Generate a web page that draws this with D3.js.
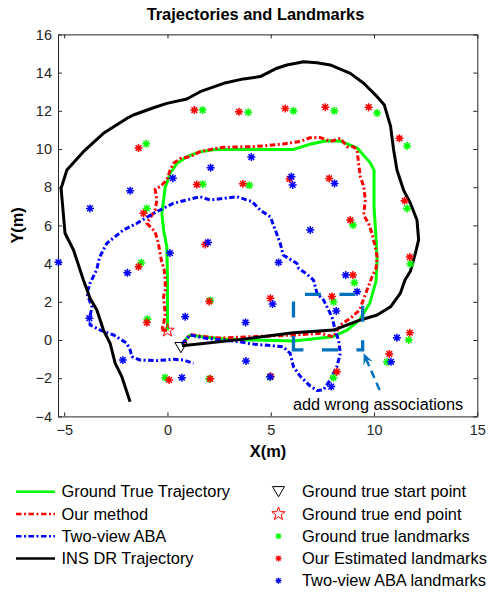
<!DOCTYPE html>
<html>
<head>
<meta charset="utf-8">
<script src="https://cdn.jsdelivr.net/npm/d3@7"></script>
<style>
  body { margin: 0; background: #fff; }
  svg { display: block; font-family: 'Liberation Sans', Arial, sans-serif; }
</style>
</head>
<body>
<svg id="chart" width="500" height="593"></svg>
<script>
// trajectories [x, y] in metres
const groundTruth = [[0.7,-0.25],[0.9,0.05],[1.1,0.25],[1.5,0.2],[2.7,0.05],[4,0.0],[6.1,-0.05],[7,0.05],[8,0.17],[8.7,0.52],[9.3,1.05],[9.8,1.94],[10.1,3.1],[10.15,4.2],[10.1,5.3],[10.0,7],[10.0,8.9],[9.8,9.3],[9.2,10.04],[8.4,10.4],[7.7,10.43],[6.9,10.25],[6.1,9.98],[4,9.98],[2.4,9.98],[1.58,9.86],[0.94,9.6],[0.46,9.25],[0.13,8.72],[-0.11,8.0],[-0.27,6.63],[-0.19,5.76],[-0.03,4.88],[0,3.14],[0,0.7],[0,0.5]];
const ourMethod = [[0.75,-0.2],[1.1,0.3],[1.6,0.2],[2.5,0.1],[4,0.17],[6.1,0.26],[7.4,0.35],[8.04,0.17],[8.37,0.79],[8.85,1.13],[9.3,1.57],[9.66,2.62],[9.9,3.3],[10.1,3.75],[10.15,4.36],[10.06,4.88],[9.9,5.58],[9.74,6.1],[9.5,6.54],[9.58,7.33],[9.5,8.03],[9.34,8.55],[9.25,9.25],[9.18,9.95],[9.0,10.12],[8.7,10.12],[8.37,10.56],[7.9,10.4],[7.4,10.6],[6.9,10.59],[6.43,10.4],[5.6,10.26],[4.65,10.16],[4.0,10.12],[2.7,10.09],[2.2,10.0],[1.58,9.86],[1.1,9.6],[0.62,9.5],[0.29,9.25],[0.13,8.9],[-0.03,8.38],[-0.35,8.03],[-0.6,7.9],[-0.51,7.33],[-0.6,6.8],[-1.0,6.11],[-0.6,5.67],[-0.44,5.06],[-0.3,4.19],[-0.16,3.66],[-0.11,3.14],[-0.11,2.62],[-0.19,2.27],[-0.11,1.4],[-0.19,0.8],[-0.3,0.52],[0,0.5]];
const twoViewABA = [[0.7,-0.2],[1.1,0.26],[1.8,0.1],[3.52,-0.09],[4.0,-0.2],[5.6,-0.35],[5.94,-0.7],[6.1,-1.4],[6.43,-1.9],[6.9,-2.4],[7.24,-2.65],[7.56,-2.6],[7.88,-2.09],[8.2,-1.4],[8.37,-0.7],[8.28,0],[8.12,0.52],[7.96,1.22],[7.72,1.74],[7.56,2.09],[7.24,2.44],[7.07,3.14],[6.75,3.45],[6.35,3.75],[6.27,4.01],[5.6,4.45],[5.46,5.06],[5.22,5.76],[4.98,6.45],[4.49,6.8],[4.09,7.25],[3.36,7.5],[2.07,7.33],[1.58,7.5],[1.26,7.42],[0.29,7.16],[-0.68,6.63],[-1.48,6.11],[-2.13,5.76],[-2.94,5.06],[-3.3,4.3],[-3.42,3.7],[-3.75,2.97],[-3.9,2.44],[-3.66,1.74],[-3.75,1.22],[-3.75,0.79],[-3.26,0.52],[-2.6,0.26],[-1.97,-0.17],[-1.81,-0.52],[-1.72,-0.87],[-1.32,-1.05],[-0.51,-1.08],[0.29,-1.01],[0.78,-1.05],[1.26,-1.22]];
const insDR = [[0.7,-0.3],[3.5,0.02],[6.1,0.38],[8.04,0.52],[9.34,1.05],[10.15,1.31],[10.8,1.74],[11.27,2.44],[11.5,3.14],[11.76,3.6],[12.0,4.54],[12.16,5.24],[12.08,6.28],[11.76,7.16],[11.43,7.85],[11.11,8.9],[10.95,9.95],[10.8,11.2],[10.5,12.3],[10.15,12.74],[9.5,13.44],[8.85,13.96],[7.88,14.4],[7.24,14.52],[6.59,14.57],[5.78,14.4],[5.3,14.23],[4.49,13.79],[3.68,13.67],[2.72,13.44],[1.58,13.0],[0.94,12.62],[-0.03,12.39],[-0.68,12.16],[-1.65,11.78],[-1.97,11.6],[-3.1,10.82],[-4.07,9.86],[-4.87,8.9],[-5.15,7.94],[-4.96,5.59],[-4.55,4.71],[-4.07,3.14],[-3.75,2.18],[-3.42,1.57],[-3.1,0.52],[-2.78,-0.17],[-2.53,-1.22],[-2.21,-1.92],[-1.81,-3.23]];

const startPoint = [0.65, -0.4];
const endPoint = [0, 0.5];

// landmarks [x, y]
const gtLandmarks = [[1.7,12.04],[3.91,11.92],[6.1,12.0],[8.08,12.0],[10.15,11.88],[-1.03,10.27],[11.6,10.16],[1.71,8.16],[3.96,8.1],[-1.0,6.89],[11.6,6.89],[8.98,6.02],[-1.27,4.05],[11.76,3.98],[9.05,3.0],[2.07,2.07],[8.04,2.0],[-0.97,1.08],[11.68,0.0],[10.63,-1.14],[8.04,-1.97],[4.96,-1.95],[-0.11,-1.97],[2.02,-2.04]];
const ourLandmarks = [[1.3,12.04],[3.46,11.95],[5.7,12.12],[7.64,12.19],[9.74,12.19],[-1.4,10.05],[11.23,10.56],[1.42,8.14],[3.65,8.18],[5.91,8.44],[7.83,8.46],[-1.16,6.63],[11.48,7.29],[8.85,6.28],[1.83,5.0],[-1.4,3.84],[11.73,4.34],[8.98,3.4],[7.96,2.28],[4.98,2.18],[2.02,2.02],[-1.0,0.91],[11.73,0.38],[10.74,-0.73],[8.2,-1.66],[5.0,-1.9],[0.08,-2.09],[2.07,-2.03]];
const abaLandmarks = [[0.26,8.47],[2.09,9.02],[4.06,9.58],[6.0,8.55],[6.06,8.12],[8.09,8.2],[-1.81,7.82],[-3.75,6.89],[6.91,5.76],[1.96,5.11],[0.12,4.55],[5.38,4.06],[-5.28,4.07],[-1.94,3.52],[8.63,3.4],[9.18,2.53],[8.17,1.52],[5.09,1.88],[0.86,1.22],[3.78,0.92],[-3.78,1.14],[11.11,0.12],[-2.16,-1.05],[3.8,-1.1],[10.82,-1.14],[7.93,-2.44],[4.97,-1.93],[0.7,-1.97]];

// annotation: box [x0, y0, x1, y1] and arrow [tail, head]
const wrongBox = [6.1, -0.52, 9.45, 2.39];
const wrongArrow = [[10.27, -2.62], [9.5, -0.7]];
const wrongText = 'add wrong associations';

const xTicks = [-5, 0, 5, 10, 15];
const yTicks = [-4, -2, 0, 2, 4, 6, 8, 10, 12, 14, 16];

const svg = d3.select('#chart');
const pL = 58, pR = 477.3, pT = 34.4, pB = 416.4;
const x = d3.scaleLinear().domain([-5.3, 15]).range([pL, pR]);
const y = d3.scaleLinear().domain([-4, 16]).range([pB, pT]);
const axisColor = '#262626';

// axes box with inward ticks on all sides
svg.append('g').attr('transform', `translate(0,${pB})`)
  .call(d3.axisBottom(x).tickValues(xTicks).tickSizeInner(-4).tickSizeOuter(0).tickPadding(8));
svg.append('g').attr('transform', `translate(0,${pT})`)
  .call(d3.axisTop(x).tickValues(xTicks).tickSizeInner(-4).tickSizeOuter(0).tickFormat(''));
svg.append('g').attr('transform', `translate(${pL},0)`)
  .call(d3.axisLeft(y).tickValues(yTicks).tickSizeInner(-4).tickSizeOuter(0).tickPadding(6));
svg.append('g').attr('transform', `translate(${pR},0)`)
  .call(d3.axisRight(y).tickValues(yTicks).tickSizeInner(-4).tickSizeOuter(0).tickFormat(''));
svg.selectAll('.domain').attr('stroke', axisColor);
svg.selectAll('.tick line').attr('stroke', axisColor);
svg.selectAll('.tick text').attr('fill', axisColor).style('font-size', '14.5px')
  .style('font-family', "'Liberation Sans', Arial, sans-serif");

svg.append('clipPath').attr('id', 'clip').append('rect')
  .attr('x', pL).attr('y', pT).attr('width', pR - pL).attr('height', pB - pT);

const line = d3.line().x(d => x(d[0])).y(d => y(d[1]));
const plot = svg.append('g').attr('clip-path', 'url(#clip)');

const series = [
  { data: groundTruth, color: '#00ff00', dash: null },
  { data: ourMethod, color: '#ff0000', dash: '5.5,2.5,2,2.5' },
  { data: twoViewABA, color: '#0000ff', dash: '5.5,2.5,2,2.5' },
  { data: insDR, color: '#000000', dash: null }
];
series.forEach(s => {
  plot.append('path').datum(s.data)
    .attr('d', line)
    .attr('fill', 'none')
    .attr('stroke', s.color)
    .attr('stroke-width', 3)
    .attr('stroke-linejoin', 'round')
    .attr('stroke-dasharray', s.dash);
});

// MATLAB-like '*' marker
function star(g, cx, cy, r, color, w) {
  const d = r * Math.SQRT1_2;
  g.append('path')
    .attr('d', `M${cx - r},${cy}H${cx + r}M${cx},${cy - r}V${cy + r}M${cx - d},${cy - d}L${cx + d},${cy + d}M${cx - d},${cy + d}L${cx + d},${cy - d}`)
    .attr('stroke', color).attr('stroke-width', w).attr('fill', 'none');
}
const lm = svg.append('g');
gtLandmarks.forEach(p => star(lm, x(p[0]), y(p[1]), 4, '#00ff00', 1.5));
ourLandmarks.forEach(p => star(lm, x(p[0]), y(p[1]), 4, '#ff0000', 1.5));
abaLandmarks.forEach(p => star(lm, x(p[0]), y(p[1]), 4, '#0000ff', 1.5));

function triangle(g, cx, cy, s) {
  g.append('path')
    .attr('d', `M${cx - s},${cy - s * 0.85}L${cx + s},${cy - s * 0.85}L${cx},${cy + s * 0.85}Z`)
    .attr('fill', 'none').attr('stroke', '#000').attr('stroke-width', 1);
}
function pentagram(g, cx, cy, r) {
  const pts = d3.range(10).map(i => {
    const a = -Math.PI / 2 + i * Math.PI / 5;
    const rr = i % 2 === 0 ? r : r * 0.4;
    return [cx + rr * Math.cos(a), cy + rr * Math.sin(a)];
  });
  g.append('path').attr('d', 'M' + pts.join('L') + 'Z')
    .attr('fill', 'none').attr('stroke', '#ff0000').attr('stroke-width', 1);
}
triangle(svg, x(startPoint[0]), y(startPoint[1]), 6);
pentagram(svg, x(endPoint[0]), y(endPoint[1]), 7);

// annotation
const annColor = '#0072bd';
const bx0 = x(wrongBox[0]), by0 = y(wrongBox[1]), bx1 = x(wrongBox[2]), by1 = y(wrongBox[3]);
svg.append('path')
  .attr('d', `M${bx0},${by0}L${bx1},${by0}L${bx1},${by1}L${bx0},${by1}Z`)
  .attr('fill', 'none').attr('stroke', annColor).attr('stroke-width', 3.3)
  .attr('stroke-dasharray', '16,18.5').attr('stroke-dashoffset', 6);

const tx = x(wrongArrow[0][0]), ty = y(wrongArrow[0][1]);
const hx = x(wrongArrow[1][0]), hy = y(wrongArrow[1][1]);
const ang = Math.atan2(hy - ty, hx - tx);
const hl = 11, hw = 5;
const ux = Math.cos(ang), uy = Math.sin(ang);
svg.append('line')
  .attr('x1', tx).attr('y1', ty)
  .attr('x2', hx - ux * 6).attr('y2', hy - uy * 6)
  .attr('stroke', annColor).attr('stroke-width', 2.5).attr('stroke-dasharray', '8,5');
const bxA = hx - ux * hl, byA = hy - uy * hl;
svg.append('path')
  .attr('d', `M${hx},${hy}L${bxA - uy * hw},${byA + ux * hw}L${hx - ux * hl * 0.6},${hy - uy * hl * 0.6}L${bxA + uy * hw},${byA - ux * hw}Z`)
  .attr('fill', annColor);

svg.append('text')
  .attr('x', 378).attr('y', 404).attr('dy', '0.35em')
  .attr('text-anchor', 'middle').style('font-size', '16.3px').attr('fill', '#000')
  .text(wrongText);

// title and axis labels
svg.append('text').attr('x', 255.5).attr('y', 20).attr('text-anchor', 'middle')
  .style('font-size', '16.4px').style('font-weight', 'bold').text('Trajectories and Landmarks');
svg.append('text').attr('x', 268).attr('y', 457).attr('text-anchor', 'middle')
  .style('font-size', '16.4px').style('font-weight', 'bold').text('X(m)');
svg.append('text').attr('transform', `translate(23,${(pT + pB) / 2}) rotate(-90)`)
  .attr('text-anchor', 'middle')
  .style('font-size', '16.4px').style('font-weight', 'bold').text('Y(m)');

// legend
const legendLines = ['Ground True Trajectory', 'Our method', 'Two-view ABA', 'INS DR Trajectory'];
const legendMarks = ['Ground true start point', 'Ground true end point', 'Ground true landmarks', 'Our Estimated landmarks', 'Two-view ABA landmarks'];
const rowY = i => 491.7 + i * 22.25;
const leg = svg.append('g');
legendLines.forEach((name, i) => {
  const s = series[i];
  leg.append('line').attr('x1', 16).attr('x2', 55).attr('y1', rowY(i)).attr('y2', rowY(i))
    .attr('stroke', s.color).attr('stroke-width', 2.5).attr('stroke-dasharray', s.dash);
  leg.append('text').attr('x', 61.5).attr('y', rowY(i)).attr('dy', '0.35em')
    .style('font-size', '16.4px').text(name);
});
legendMarks.forEach((name, i) => {
  leg.append('text').attr('x', 302).attr('y', rowY(i)).attr('dy', '0.35em')
    .style('font-size', '16.4px').text(name);
});
triangle(leg, 278.5, rowY(0), 6);
pentagram(leg, 278.5, rowY(1), 7);
star(leg, 278.5, rowY(2), 3, '#00ff00', 1.3);
star(leg, 278.5, rowY(3), 3, '#ff0000', 1.3);
star(leg, 278.5, rowY(4), 3, '#0000ff', 1.3);
</script>
</body>
</html>
